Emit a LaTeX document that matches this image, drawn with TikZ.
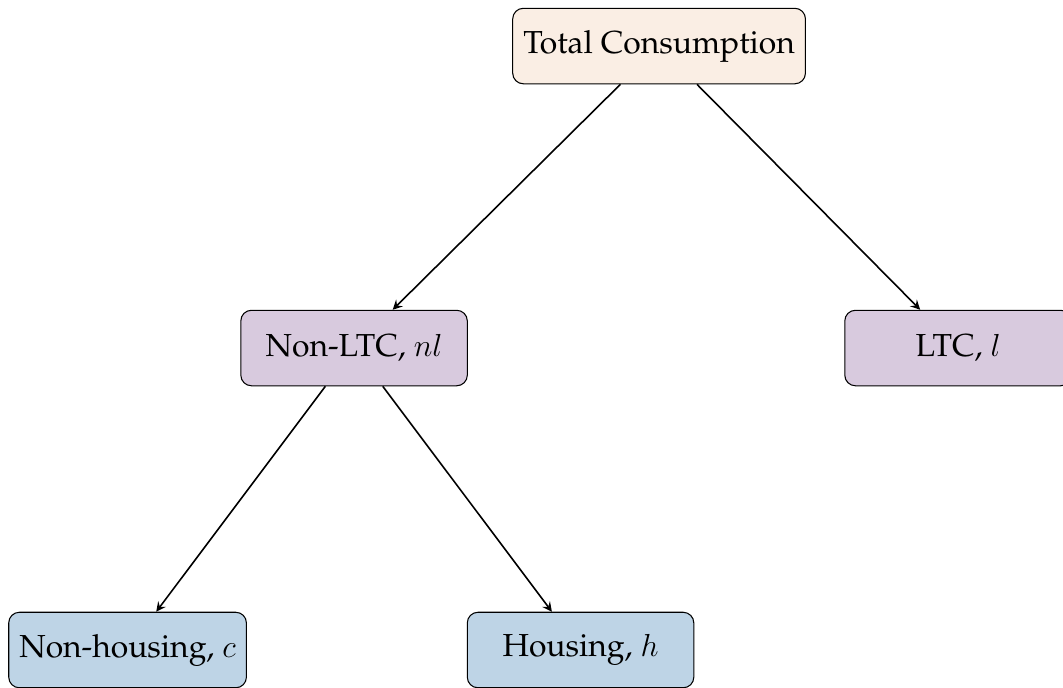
\documentclass[12pt,tikz,border=0pt]{standalone}
\usepackage[T1]{fontenc}
\usepackage{palatino}
\usepackage{tikz}
\usetikzlibrary{calc}
\definecolor{topfill}{RGB}{250,238,228}
\definecolor{midfill}{RGB}{216,202,222}
\definecolor{lowfill}{RGB}{190,212,230}

\begin{document}
\begin{tikzpicture}[>=stealth,
	box/.style={draw,rounded corners=4pt,minimum width=3cm,minimum height=1cm}]
			\useasboundingbox (-8.73,0.61) rectangle (5.35,-8.49);
			
			\node[box,fill=topfill](tc) at (0,0) {Total Consumption};
			
			\node[box,fill=midfill](nl) at ($(tc)+(-4.04,-4)$) {Non-LTC, $nl$};
			\node[box,fill=midfill](l) at ($(tc)+(3.96,-4)$) {LTC, $l$};
			
			\node[box,fill=lowfill](c) at ($(nl)+(-3,-4)$) {Non-housing, $c$};
			\node[box,fill=lowfill](h) at ($(nl)+(3,-4)$) {Housing, $h$};
			
			\draw[->,semithick] (tc)--(nl);
			\draw[->,semithick] (tc)--(l);
			\draw[->,semithick] (nl)--(c);
			\draw[->,semithick] (nl)--(h);
		\end{tikzpicture}
\end{document}
